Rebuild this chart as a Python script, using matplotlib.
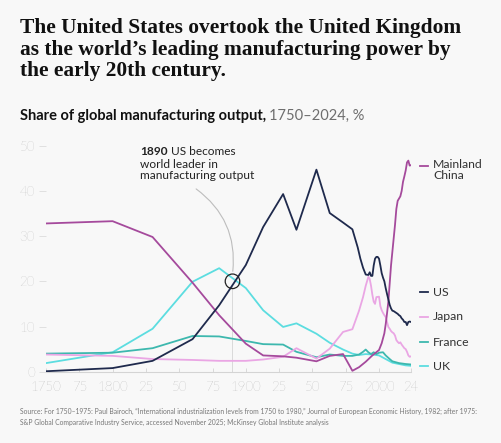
import matplotlib
matplotlib.use("Agg")
import matplotlib.pyplot as plt

# Bairoch benchmark years, then annual-ish S&P estimates
years_early = [1750, 1800, 1830, 1860, 1880, 1900, 1913, 1928, 1938, 1953, 1963, 1973]

us_early = [0.1, 0.8, 2.4, 7.2, 14.7, 23.6, 32.0, 39.3, 31.4, 44.7, 35.1, 33.0]
china_early = [32.8, 33.3, 29.8, 19.7, 12.5, 6.2, 3.6, 3.4, 3.1, 2.3, 3.5, 3.9]
japan_early = [3.8, 3.5, 2.8, 2.6, 2.4, 2.4, 2.7, 3.3, 5.2, 2.9, 5.1, 8.8]
france_early = [4.0, 4.2, 5.2, 7.9, 7.8, 6.8, 6.1, 6.0, 4.4, 3.2, 3.8, 3.5]
uk_early = [1.9, 4.3, 9.5, 19.9, 22.9, 18.5, 13.6, 9.9, 10.7, 8.4, 6.4, 4.9]

us_years = [1980, 1982, 1984, 1986, 1988, 1990, 1992, 1993, 1994, 1995, 1996, 1997,
            1998, 1999, 2000, 2001, 2002, 2003, 2004, 2005, 2006, 2007, 2008, 2009,
            2010, 2011, 2012, 2013, 2014, 2015, 2016, 2017, 2018, 2019, 2020, 2021,
            2022, 2023, 2024]
us_late = [31.5, 29.5, 27.5, 25.0, 23.0, 21.5, 21.4, 22.0, 21.2, 21.2, 23.5, 25.0,
           25.4, 25.4, 25.0, 23.5, 21.8, 20.8, 20.0, 18.5, 17.2, 16.0, 14.8, 14.0,
           13.5, 13.4, 13.2, 13.0, 12.8, 12.5, 12.3, 11.8, 11.5, 11.0, 11.0, 10.3,
           11.0, 11.1, 11.0]

japan_years = [1980, 1985, 1988, 1990, 1992, 1993, 1994, 1995, 1996, 1997, 1998,
               2000, 2001, 2002, 2003, 2004, 2005, 2006, 2007, 2008, 2009, 2010,
               2011, 2012, 2013, 2014, 2015, 2016, 2017, 2018, 2019, 2020, 2021,
               2022, 2023, 2024]
japan_late = [9.4, 13.5, 16.5, 19.0, 21.0, 20.5, 19.0, 17.0, 15.5, 15.0, 16.5,
              16.6, 14.5, 13.6, 13.0, 12.5, 12.1, 11.0, 9.9, 9.5, 9.0, 8.7,
              8.5, 8.0, 7.0, 6.6, 6.3, 6.5, 6.0, 5.6, 5.2, 5.0, 4.4,
              3.6, 3.3, 3.4]

china_years = [1980, 1985, 1990, 1995, 2000, 2002, 2004, 2005, 2006, 2007, 2008,
               2009, 2010, 2011, 2012, 2013, 2014, 2015, 2016, 2017, 2018, 2019,
               2020, 2021, 2022, 2023, 2024]
china_late = [0.2, 1.0, 2.2, 3.6, 4.8, 6.3, 8.5, 10.5, 12.9, 15.5, 19.5,
              23.5, 26.5, 29.5, 32.5, 36.0, 37.8, 38.3, 38.8, 40.0, 42.0, 43.2,
              44.5, 46.3, 46.7, 45.6, 45.7]

france_years = [1980, 1985, 1988, 1990, 1992, 1994, 1996, 1998, 2000, 2003, 2005,
                2008, 2010, 2015, 2020, 2024]
france_late = [3.5, 3.8, 4.4, 4.9, 4.3, 3.9, 4.3, 3.9, 4.2, 4.3, 3.6,
               2.8, 2.3, 1.9, 1.7, 1.6]

uk_years = [1980, 1985, 1990, 1995, 2000, 2005, 2010, 2015, 2020, 2024]
uk_late = [4.0, 3.7, 3.9, 3.8, 3.6, 2.8, 2.0, 1.7, 1.4, 1.3]

x_ticks = [1750, 1775, 1800, 1825, 1850, 1875, 1900, 1925, 1950, 1975, 2000, 2024]
x_labels = ["1750", "75", "1800", "25", "50", "75", "1900", "25", "50", "75", "2000", "24"]
y_ticks = [0, 10, 20, 30, 40, 50]

bg = "#f8f8f8"
c_us = "#1f2a4d"
c_china = "#a54a9c"
c_japan = "#eaa6e4"
c_france = "#3db8ae"
c_uk = "#5cdde0"

plt.rcParams["font.family"] = ["Lato", "DejaVu Sans"]

fig = plt.figure(figsize=(5.01, 4.43), dpi=100, facecolor=bg)
ax = fig.add_axes([46 / 501, 1 - 371.7 / 443, 365 / 501, 226 / 443], facecolor=bg)

series = [
    (years_early + uk_years, uk_early + uk_late, c_uk, "UK"),
    (years_early + france_years, france_early + france_late, c_france, "France"),
    (years_early + japan_years, japan_early + japan_late, c_japan, "Japan"),
    (years_early + china_years, china_early + china_late, c_china, "Mainland China"),
    (years_early + us_years, us_early + us_late, c_us, "US"),
]
for xs, ys, col, name in series:
    ax.plot(xs, ys, color=col, lw=1.3, solid_joinstyle="round", zorder=3)

ax.set_xlim(1750, 2024)
ax.set_ylim(0, 50)
for s in ["top", "right", "left"]:
    ax.spines[s].set_visible(False)
ax.spines["bottom"].set_color("#d4d4d4")
ax.spines["bottom"].set_linewidth(0.8)
ax.spines["bottom"].set_zorder(1)

ax.set_xticks(x_ticks)
ax.set_xticklabels(x_labels)
ax.set_yticks(y_ticks)
ax.tick_params(axis="x", length=3, width=0.6, color="#d4d4d4", direction="in",
               labelsize=9.5, labelcolor="#8e8e8e", pad=7)
ax.tick_params(axis="y", length=5, width=0.6, color="#dcdcdc", direction="out",
               labelsize=9.5, labelcolor="#9a9a9a", pad=3)
for lab in ax.get_xticklabels() + ax.get_yticklabels():
    lab.set_fontweight("light")

# annotation for 1890
ax.plot([1890, 1890], [0, 19.0], color="#dadada", lw=0.7, zorder=1)
ax.scatter([1890], [20], s=110, facecolor="none", edgecolor="#222222", lw=0.9, zorder=5)
ax.annotate("", xy=(1890, 21.6), xytext=(1861, 40.8),
            arrowprops=dict(arrowstyle="-", color="#bdbdbd", lw=0.8,
                            connectionstyle="arc3,rad=-0.3"), zorder=2)

fig.canvas.draw()
r = fig.canvas.get_renderer()
t1 = fig.text(140 / 501, 1 - 146 / 443, "1890", fontsize=8.6, fontweight="bold",
              color="#222222", va="top", ha="left")
bb = t1.get_window_extent(renderer=r)
fig.text(bb.x1 / fig.bbox.width, 1 - 146 / 443, " US becomes", fontsize=8.6,
         color="#222222", va="top", ha="left")
fig.text(140 / 501, 1 - 159 / 443, "world leader in\nmanufacturing output", fontsize=8.6,
         color="#222222", va="top", ha="left", linespacing=1.05)

# end labels
labels = [("Mainland\nChina", 166, c_china), ("US", 292, c_us), ("Japan", 317, c_japan),
          ("France", 342, c_france), ("UK", 366, c_uk)]
for txt, ypix, col in labels:
    yf = 1 - ypix / 443
    fig.add_artist(plt.Line2D([420 / 501, 428 / 501], [yf, yf], color=col, lw=1.3))
    if "\n" in txt:
        fig.text(433 / 501, yf + 7 / 443, txt, fontsize=8.8, color="#333333",
                 va="top", ha="left", linespacing=1.0)
    else:
        fig.text(433 / 501, yf, txt, fontsize=8.8, color="#333333", va="center", ha="left")

# title and subtitle
fig.text(20 / 501, 1 - 18 / 443,
         "The United States overtook the United Kingdom\nas the world\u2019s leading manufacturing power by\nthe early 20th century.",
         fontsize=15.4, fontweight="bold", family="Liberation Serif", color="#111111",
         va="top", ha="left", linespacing=1.1)
s1 = fig.text(20 / 501, 1 - 116 / 443, "Share of global manufacturing output,",
              fontsize=10.5, fontweight="bold", color="#111111", va="center", ha="left")
bb = s1.get_window_extent(renderer=r)
fig.text(bb.x1 / fig.bbox.width + 3 / 501, 1 - 116 / 443, "1750\u20132024, %",
         fontsize=10.5, color="#6e6e6e", va="center", ha="left")

fig.text(20 / 501, 1 - 408 / 443,
         "Source: For 1750\u20131975: Paul Bairoch, \u201cInternational industrialization levels from 1750 to 1980,\u201d Journal of European Economic History, 1982; after 1975:\n"
         "S&P Global Comparative Industry Service, accessed November 2025; McKinsey Global Institute analysis",
         fontsize=4.9, color="#777777", va="top", ha="left", linespacing=1.6)

fig.savefig("out.png", dpi=100, facecolor=bg)
